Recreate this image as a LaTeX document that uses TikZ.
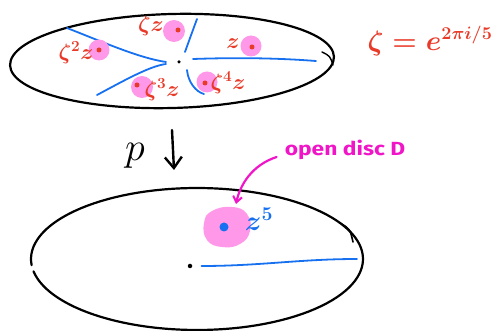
\RequirePackage{fix-cm}
\documentclass[tikz,border=0pt]{standalone}
\usepackage{fontspec}
\setmainfont{Fira Sans}
\usetikzlibrary{arrows.meta}
\definecolor{hred}{RGB}{232,58,40}
\definecolor{hpink}{RGB}{255,152,232}
\definecolor{hblue}{RGB}{22,112,240}
\definecolor{hmag}{RGB}{240,22,200}
\tikzset{
  ell/.style={black, line width=2.2pt, line cap=round},
  cut/.style={hblue, line width=1.8pt, line cap=round},
  disk/.style={circle, fill=hpink, inner sep=0pt, minimum size=21pt},
  rdot/.style={circle, fill=hred, inner sep=0pt, minimum size=5pt},
  kdot/.style={circle, fill=black, inner sep=0pt, minimum size=3.5pt},
  lab/.style={text=hred, inner sep=0pt, font=\fontsize{22}{22}\selectfont\boldmath},
}
\begin{document}
\begin{tikzpicture}[x=1pt,y=-1pt]
\useasboundingbox (0,0) rectangle (499,331);
% top ellipse
\draw[ell, rotate around={1.5:(172,61)}] (172,61) ellipse [x radius=162pt, y radius=47pt];
\draw[black, line width=1.4pt, line cap=round] (322,52) .. controls (330,56) .. (333,65);
\node[kdot] (c1) at (179,62) {};
% cuts
\draw[cut] (67,28) .. controls (110,45) and (140,58) .. (166,62);
\draw[cut] (97,95) .. controls (125,80) and (150,66) .. (166,64);
\draw[cut] (185,52) .. controls (190,38) .. (197,19);
\draw[cut] (193,59) .. controls (250,57) and (290,59) .. (316,61);
\draw[cut] (187,70) .. controls (188,82) and (196,92) .. (204,94);
% disks
\node[disk] (d0) at (251,46) {};
\node[disk, minimum size=22pt] (d1) at (174,31) {};
\node[disk] (d2) at (99,50) {};
\node[disk, minimum size=22pt] (d3) at (142,87) {};
\node[disk] (d4) at (207,82) {};
\node[rdot] (p0) at (252,47) {};
\node[rdot] (p1) at (178,30) {};
\node[rdot] (p2) at (99,50) {};
\node[rdot] (p3) at (137,85) {};
\node[rdot] (p4) at (205,83) {};
\node[lab] (l0) at (233,44) {$z$};
\node[lab] (l1) at (151,26) {$\zeta z$};
\node[lab] (l2) at (76,53) {$\zeta^{2} z$};
\node[lab] (l3) at (162,90) {$\zeta^{3} z$};
\node[lab] (l4) at (228,83) {$\zeta^{4} z$};
% formula
\node[text=hred, inner sep=0pt, font=\fontsize{28}{28}\selectfont\boldmath] (f) at (430,41)
  {$\zeta = e^{\mbox{\fontsize{18}{18}\selectfont\boldmath$2\pi i/5$}}$};
% map p
\node[inner sep=0pt, font=\fontsize{40}{40}\selectfont] (p) at (135,156) {$p$};
\coordinate (a1) at (172,130);
\coordinate (a2) at (174,170);
\draw[black, line width=2.4pt, line cap=round, -{Straight Barb[length=11pt,width=17pt,line width=2.4pt]}] (a1) -- (a2);
% bottom ellipse
\draw[ell] plot[domain=175:530, samples=120, variable=\t] ({197+166*cos(\t)},{259+71*sin(\t)});
\draw[black, line width=1.6pt, line cap=round] (340,223) .. controls (350,229) .. (353,242);
\node[kdot, minimum size=4.5pt] (c2) at (190,266) {};
\coordinate (e1) at (357,259);
\draw[cut] (c2.east) ++(9,0) coordinate (e0) .. controls (260,266) and (300,259) .. (e1);
% disc D
\fill[hpink] plot[smooth cycle, tension=0.8] coordinates {(212,211) (232,207) (247,214) (250,231) (240,244) (222,247) (207,240) (204,223)};
\node[circle, fill=hblue, inner sep=0pt, minimum size=9pt] (w) at (224,227) {};
\node[text=hblue, inner sep=0pt, font=\fontsize{28}{28}\selectfont\boldmath] (z5) at (259,219) {$z^{5}$};
\node[text=hmag, inner sep=0pt, font=\fontsize{19}{19}\selectfont\bfseries] (od) at (345,150) {\scalebox{1.2}[1]{open disc D}};
\draw[hmag, line width=2.2pt, line cap=round, -{Straight Barb[length=6pt,width=9pt,line width=2pt]}]
  (od.west) ++(-8,7) coordinate (m0) .. controls (252,165) and (240,185) .. (236,204);
\end{tikzpicture}
\end{document}
